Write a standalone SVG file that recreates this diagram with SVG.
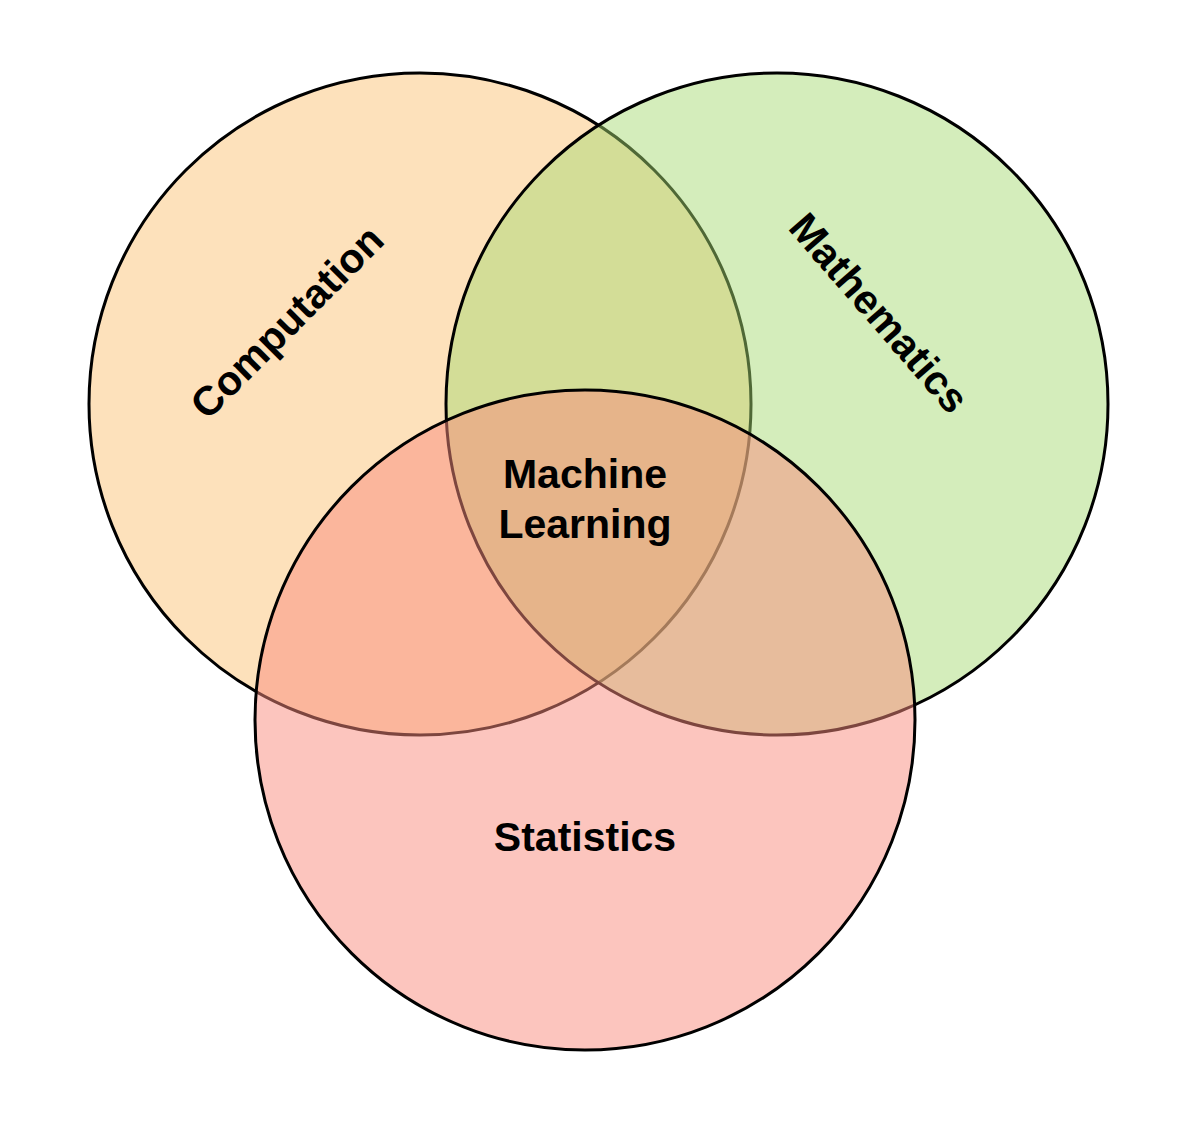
<svg xmlns="http://www.w3.org/2000/svg" width="1183" height="1125" viewBox="0 0 1183 1125">
<style>
.c{stroke:#000;stroke-width:3}
.t{font-family:"Liberation Sans",Arial,sans-serif;font-weight:bold;font-size:41px;fill:#000;text-anchor:middle}
</style>
<rect width="1183" height="1125" fill="#fff"/>
<g id="computation">
<circle class="c" cx="420" cy="404" r="331" fill="#fde1bb"/>
<text class="t" transform="translate(287,322) rotate(-45)" y="14">Computation</text>
</g>
<g id="mathematics">
<circle class="c" cx="777" cy="404" r="331" fill="#a5da70" fill-opacity="0.48"/>
<text class="t" transform="translate(879,313) rotate(49)" y="14">Mathematics</text>
</g>
<g id="statistics">
<circle class="c" cx="585" cy="720" r="330" fill="#fa8c7d" fill-opacity="0.5"/>
<text class="t" x="585" y="851">Statistics</text>
</g>
<g id="machine-learning">
<text class="t" x="585" y="488">Machine</text>
<text class="t" x="585" y="538">Learning</text>
</g>
<g id="connectors"/>
</svg>
